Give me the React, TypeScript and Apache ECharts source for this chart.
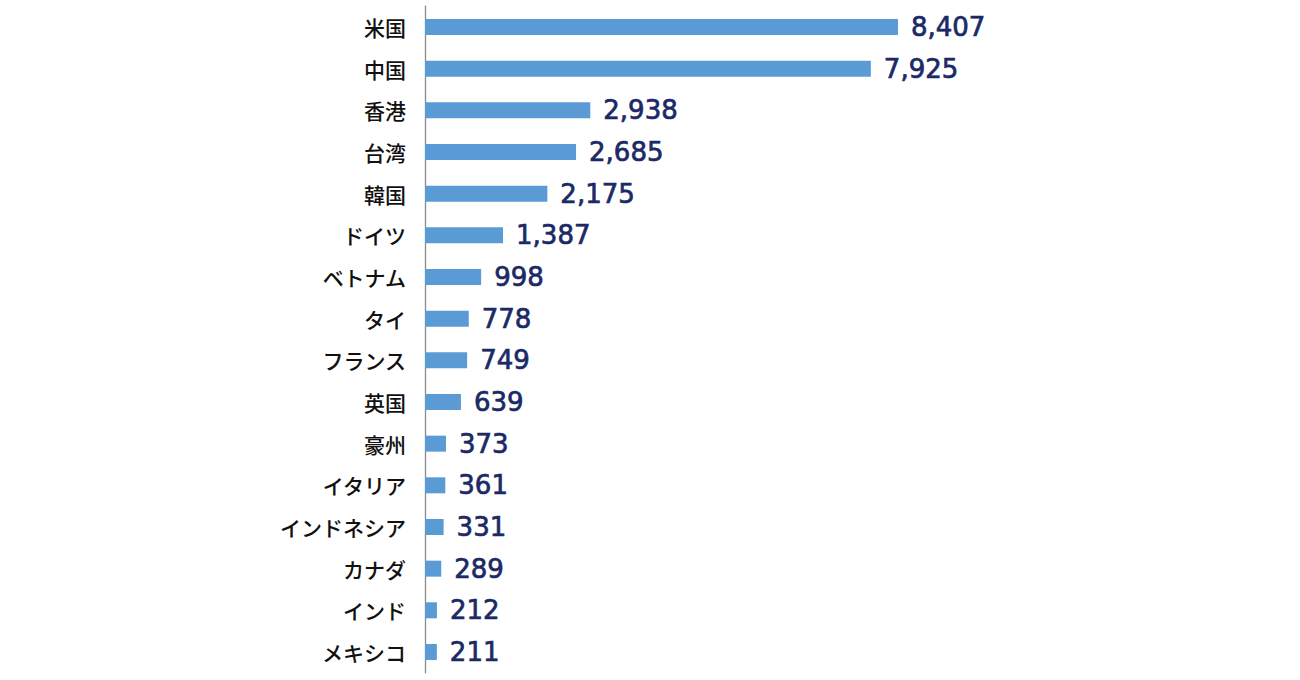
import React, { useEffect, useRef } from "react";
import * as echarts from "echarts";

const categories = ["米国", "中国", "香港", "台湾", "韓国", "ドイツ", "ベトナム", "タイ", "フランス", "英国", "豪州", "イタリア", "インドネシア", "カナダ", "インド", "メキシコ"];
const values = [8407, 7925, 2938, 2685, 2175, 1387, 998, 778, 749, 639, 373, 361, 331, 289, 212, 211];

export default function App() {
  const ref = useRef<HTMLDivElement>(null);
  useEffect(() => {
    const chart = echarts.init(ref.current!, null, { renderer: "svg" });
    chart.setOption({
      animation: false,
      grid: { left: 425, right: 312.4, top: 6.2, bottom: 7.2, containLabel: false },
      xAxis: { type: "value", min: 0, max: 10000, show: false },
      yAxis: {
        type: "category",
        data: categories,
        inverse: true,
        axisLine: { show: true, lineStyle: { color: "#8a8a8a", width: 1.3 } },
        axisTick: { show: false },
        axisLabel: {
          margin: 19,
          fontSize: 21,
          fontWeight: 500,
          color: "#111111",
          fontFamily: "Noto Sans CJK JP",
        },
      },
      series: [
        {
          type: "bar",
          data: values,
          barWidth: 16,
          itemStyle: { color: "#5b9bd5" },
          label: {
            show: true,
            position: "right",
            distance: 13,
            fontSize: 26,
            fontWeight: "normal",
            color: "#1b2a66",
            textBorderColor: "#1b2a66",
            textBorderWidth: 0.7,
            fontFamily: "DejaVu Sans",
            formatter: (p: any) => p.value.toLocaleString("en-US"),
          },
        },
      ],
    });
    return () => chart.dispose();
  }, []);
  return <div ref={ref} style={{ width: 1300, height: 680, position: "absolute", left: 0, top: 0, background: "#fff" }} />;
}
